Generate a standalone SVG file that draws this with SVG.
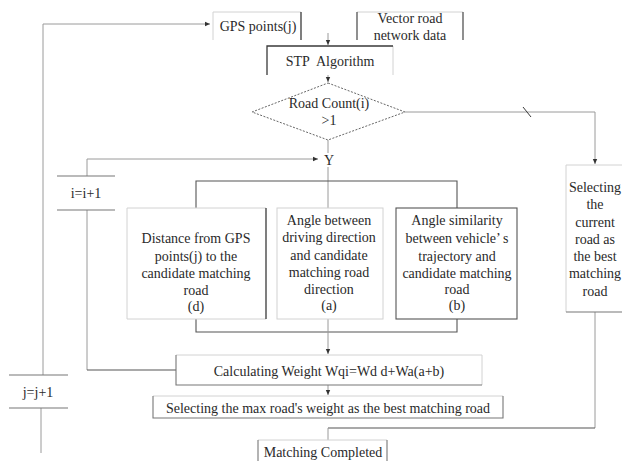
<svg xmlns="http://www.w3.org/2000/svg" width="622" height="461" viewBox="0 0 622 461">
<defs>
<marker id="ah" markerWidth="6" markerHeight="6" refX="5" refY="3" orient="auto" markerUnits="userSpaceOnUse">
<path d="M0,0.8 L5,3 L0,5.2 Z" fill="#333"/>
</marker>
<style>
text{font-family:'Liberation Serif','Times New Roman','DejaVu Serif',serif;font-size:14px;fill:#2a2a2a;text-anchor:middle;dominant-baseline:central}
.lt{stroke:#d2d2d2;stroke-width:1;fill:none}
.dk{stroke:#3a3a3a;stroke-width:1.3;fill:none}
.md{stroke:#777;stroke-width:1.1;fill:none}
.c{stroke:#9a9a9a;stroke-width:1;fill:none}
.cd{stroke:#555;stroke-width:1.1;fill:none}
.dash{stroke:#666;stroke-width:1;stroke-dasharray:2,1.5;fill:none}
</style>
</defs>
<rect width="622" height="461" fill="#fff"/>

<g id="connectors">
<path class="c" d="M43,375 V24 H210" marker-end="url(#ah)"/>
<path class="c" d="M41,408 V453"/>
<path class="c" d="M328,33 V45" marker-end="url(#ah)"/>
<path class="c" d="M328,75 V82" marker-end="url(#ah)"/>
<path class="c" d="M405,112 H595 V164" marker-end="url(#ah)"/>
<path class="dk" d="M523,107 L531,117" style="stroke-width:1"/>
<path class="c" d="M328,140 V153"/>
<path class="c" d="M87,176 V159 H318" marker-end="url(#ah)"/>
<path class="c" d="M87,210 V370"/>
<path class="cd" d="M87,370 H176"/>
<path class="c" d="M328,167 V208"/>
<path class="cd" d="M196,208 V181 H457 V208"/>
<path class="cd" d="M196,319 V332 H457 V319"/>
<path class="c" d="M328,319 V354" marker-end="url(#ah)"/>
<path class="c" d="M328,385 V395" marker-end="url(#ah)"/>
<path class="c" d="M595,312 V428"/>
<path class="cd" d="M595,428 H328"/>
<path class="c" d="M328,428 V440"/>
</g>

<g id="gps">
<path class="lt" d="M301,12 H213 V40"/>
<path class="dk" d="M301,12 V40"/>
<text x="258" y="26" font-family="Liberation Serif">GPS points(j)</text>
</g>

<g id="vector">
<path class="lt" d="M357,12 H463"/>
<path class="dk" d="M357,12 V40 M463,12 V40" style="stroke:#555"/>
<text x="410" y="18">Vector road</text>
<text x="410" y="35">network data</text>
</g>

<g id="stp">
<path class="lt" d="M393,46 V75"/>
<path class="dk" d="M267,75 V46 H393"/>
<text x="330" y="61">STP&#160; Algorithm</text>
</g>

<g id="decision">
<path class="dash" d="M328,83 L405,112 L328,140 L252,112 Z"/>
<text x="329" y="103">Road Count(i)</text>
<text x="329" y="120">&gt;1</text>
</g>

<g id="yes">
<text x="329" y="160">Y</text>
</g>

<g id="ii">
<path class="md" d="M57,176 H115 M57,210 H115"/>
<text x="86" y="193">i=i+1</text>
</g>

<g id="jj">
<path class="md" d="M9,375 H68 M9,408 H68"/>
<text x="38" y="392">j=j+1</text>
</g>

<g id="dist">
<path class="lt" d="M266,208 H127 V319 H266"/>
<path class="dk" d="M266,208 V319"/>
<text x="196" y="238">Distance from GPS</text>
<text x="196" y="256">points(j) to the</text>
<text x="196" y="273">candidate matching</text>
<text x="196" y="290">road</text>
<text x="196" y="306">(d)</text>
</g>

<g id="angle">
<rect class="lt" x="277" y="208" width="106" height="111"/>
<text x="329" y="220">Angle between</text>
<text x="329" y="237">driving direction</text>
<text x="329" y="255">and candidate</text>
<text x="329" y="272">matching road</text>
<text x="329" y="289">direction</text>
<text x="329" y="305">(a)</text>
</g>

<g id="similarity">
<rect class="md" x="396" y="208" width="121" height="111" style="stroke:#555"/>
<text x="457" y="220">Angle similarity</text>
<text x="457" y="238">between vehicle’ s</text>
<text x="457" y="256">trajectory and</text>
<text x="457" y="273">candidate matching</text>
<text x="457" y="289">road</text>
<text x="457" y="305">(b)</text>
</g>

<g id="current">
<path class="lt" d="M622,165 H566 V312"/>
<path class="md" d="M566,312 H622"/>
<text x="595" y="187">Selecting</text>
<text x="595" y="204">the</text>
<text x="595" y="222">current</text>
<text x="595" y="239">road as</text>
<text x="595" y="256">the best</text>
<text x="595" y="273">matching</text>
<text x="595" y="291">road</text>
</g>

<g id="calc">
<path class="lt" d="M176,355 H482 V385"/>
<path class="md" d="M176,355 V385 H482"/>
<text x="329" y="371">Calculating Weight Wqi=Wd d+Wa(a+b)</text>
</g>

<g id="selmax">
<path class="lt" d="M153,396 H503"/>
<path class="md" d="M153,396 V418 H503 V396"/>
<text x="328" y="408">Selecting the max road's weight as the best matching road</text>
</g>

<g id="done">
<path class="lt" d="M258,440 H387"/>
<path class="md" d="M258,461 V440 M387,440 V461"/>
<text x="323" y="452">Matching Completed</text>
</g>
</svg>
